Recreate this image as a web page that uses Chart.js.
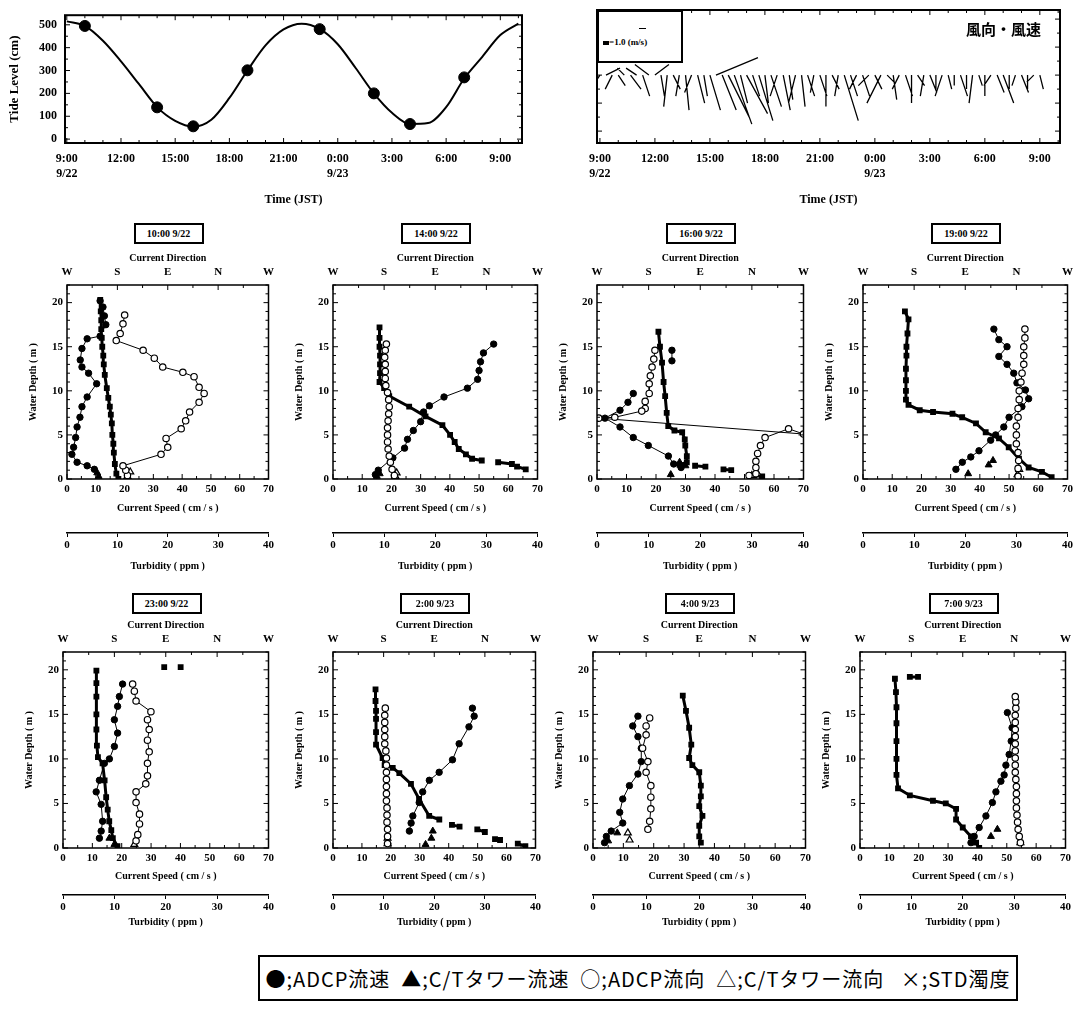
<!DOCTYPE html>
<html>
<head>
<meta charset="utf-8">
<script src="https://cdn.jsdelivr.net/npm/chart.js@4.4.0/dist/chart.umd.min.js"></script>
<style>
  html, body { margin: 0; padding: 0; background: #fff; overflow: hidden; }
  body { width: 1077px; height: 1012px; position: relative; }
  canvas { position: absolute; }
  .tbox { position: absolute; width: 70px; height: 21px; border: 2px solid #000; box-sizing: border-box;
          font: bold 10px 'Liberation Serif', serif; display: flex; align-items: center; justify-content: center; background: #fff; z-index: 2; }
  .legend { position: absolute; left: 258px; top: 955px; width: 760px; height: 46px; border: 2px solid #000; box-sizing: border-box;
            font: 20px 'Noto Sans CJK JP', sans-serif; letter-spacing: 1px; display: flex; align-items: center; justify-content: center; white-space: pre; }
  .wkey { position: absolute; left: 597px; top: 10px; width: 86px; height: 53px; border: 2px solid #000; box-sizing: border-box;
          font: bold 9px 'Liberation Serif', serif; background: #fff; z-index: 2; }
  .wtitle { position: absolute; left: 966px; top: 18px; font: bold 15px 'Noto Sans CJK JP', sans-serif; z-index: 2; }
</style>
</head>
<body>
<script>
// ---- tide level ----
const tideHours = [0,1,2,3,4,5,6,7,8,9,10,11,12,13,14,15,16,17,18,19,20,21,22,23,24,25];
const tideLevel = [515,495,430,340,240,140,80,55,85,180,300,410,480,505,482,415,310,200,115,66,70,140,265,360,455,505];
const obsHours = [1,5,7,10,14,17,19,22];
const obsLevel = [495,139,56,301,481,200,66,270];
const timeTicks = [0,3,6,9,12,15,18,21,24];
const timeLabels = [['9:00','9/22'],['12:00',''],['15:00',''],['18:00',''],['21:00',''],['0:00','9/23'],['3:00',''],['6:00',''],['9:00','']];
const tideTicks = [0,100,200,300,400,500];

// ---- wind sticks (hours after 9:00, u / v in m/s) ----
const windTimes = [0,0.33,0.67,1,1.33,1.67,2,2.33,2.67,3,3.33,3.67,4,4.33,4.67,5,5.33,5.67,6,6.33,6.67,7,7.33,7.67,
  8,8.33,8.67,9,9.33,9.67,10,10.33,10.67,11,11.33,11.67,12,12.33,12.67,13,13.33,13.67,14,14.33,14.67,15,15.33,15.67,
  16,16.33,16.67,17,17.33,17.67,18,18.33,18.67,19,19.33,19.67,20,20.33,20.67,21,21.33,21.67,22,22.33,22.67,23,23.33,23.67,24];
const windU = [-2,2,-1, 1,-1,1.5, -1.5,1,-2, 2,0.5,-0.5, 1,-0.5,0.5, -1,1,0.5, 1.5,6,2, 3,2.5,1, 3,1,2, 0.5,1.5,-1,
  1,0.5,-1, 0.5,1,-0.5, 1,0,1, -0.5,2,1, -1,1,-1.5, 1,-2,1, 0.5,-1,1, 0,1,-0.5, 1,0,-1, 0.5,0,1, 0,-0.5,0.5, 0,-1,1,
  1.5,0,-0.5, 1,0,-1, 0.5];
const windV = [-3,1,-2, -1.5,1,-2, 1,-3,1.5, 1.5,-3,-4.5, -2,-3,-5, -2.5,-4,-3, -5,2.5,-5, -6,-7,-4, -5.5,-3,-6.5, -4,-4.5,-3,
  -5,-3.5,-4, -4.5,-3,-2.5, -3,-4.5,-2, -3,-6.5,-3, -2,-3,-1.5, -2,-4,-1, -3.5,-2,-3, -4,-1.5,-3, -2.5,-2,-3, -2,-1.5,-3,
  -2,-4,-1.5, -3,-1.5,-2.5, -4,-2,-1.5, -2.5,-2,-1, -2];

// ---- profile axes ----
const panelTitles = ['10:00 9/22','14:00 9/22','16:00 9/22','19:00 9/22','23:00 9/22','2:00 9/23','4:00 9/23','7:00 9/23'];
const speedTicks = [0,10,20,30,40,50,60,70];
const dirTicks = [0,90,180,270,360];
const dirLabels = ['W','S','E','N','W'];
const turbTicks = [0,10,20,30,40];
const depthTicks = [0,5,10,15,20];

// ---- profiles: [depth m, value] ; speed cm/s, direction deg, turbidity ppm ----
const p1Turb = [[0,10.2],[0.6,9.8],[1.7,9.5],[3,9.3],[4,9.2],[5,9],[6.3,8.9],[7.3,8.7],[8.2,8.5],[9.2,8.2],[10.3,7.9],[11.8,7.5],[13,7.3],[14,7.2],[15,7],[16,6.9],[17,6.8],[18,6.8],[19,6.7],[20.3,6.6]];
const p1AdcpSpd = [[1.1,9.5],[1.5,7],[1.9,3.5],[2.8,1.7],[3.6,2.3],[4.7,3],[5.9,3.5],[7,4.5],[8.2,5.2],[9.3,7],[10.8,10.3],[12,7.5],[12.7,5.2],[13.5,4.6],[14.8,5.2],[15.9,7],[16.2,11.5],[17.5,13.5],[18.5,13],[19.5,12.5],[20.2,11.5]];
const p1CtSpd = [[0.3,11],[0.7,10.5]];
const p1AdcpDir = [[0.4,108],[1,105],[1.5,100],[2.8,168],[3.6,180],[4.6,177],[5.7,204],[6.6,212],[7.6,219],[8.7,236],[9.7,245],[10.4,236],[11.6,227],[12.1,207],[12.7,171],[13.7,156],[14.6,136],[15.7,88],[16.5,95],[17.6,100],[18.6,103]];
const p1CtDir = [[0.3,108],[0.8,113]];

const p2Turb = [[1.1,37.7],[1.4,36],[1.6,null],[1.7,35],[1.9,32.3],[2.0,null],[2.1,29.1],[2.3,27.2],[2.8,26],[3.4,24.6],[4.2,23.8],[5,22.9],[6.1,21.4],[7.1,18.1],[8.2,14.9],[9.4,11],[10.3,10],[11,9.1],[12,9.2],[13,9.2],[14,9.2],[15,9.1],[16,9.1],[17.2,9.1]];
const p2AdcpSpd = [[0.5,14.5],[1,15.5],[2.4,20.5],[3.5,24.5],[4.5,25.5],[5.5,27.5],[6.5,30],[7.6,31],[8.3,33],[9.3,38],[10.3,46],[11.3,49.5],[12.3,50],[13.3,50.5],[14.3,51.5],[15.3,55]];
const p2CtSpd = [[0.3,15],[0.6,16]];
const p2AdcpDir = [[0.4,108],[1.1,104],[1.9,101],[2.6,99],[3.4,97],[4.2,96],[5,96],[5.8,96],[6.6,97],[7.4,98],[8.2,99],[9,98],[9.8,96],[10.6,93],[11.4,92],[12.2,92],[13,92],[13.8,91],[14.6,92],[15.3,94]];
const p2CtDir = [[0.3,110],[0.7,112]];

const p3Turb = [[0.3,32],[0.4,30.5],[0.7,null],[1,26],[1.1,24.5],[1.3,null],[1.4,21],[1.5,19],[1.6,null],[1.6,16],[1.9,17.4],[2.6,17.4],[3.8,17.1],[4.5,17],[5.3,16.5],[5.5,15],[6,13.8],[7.5,13.5],[9.4,13.2],[11,12.9],[13.2,12.6],[15,12.2],[16.7,11.9]];
const p3AdcpSpd = [[1.3,28.5],[1.7,26],[2.6,24.2],[3.8,17.4],[4.7,12.3],[5.9,7.8],[6.9,2.7],[7.8,7.8],[8.7,10.5],[9.7,12.3],[12,null],[13.4,25.4],[14.6,25.4]];
const p3CtSpd = [[0.5,25],[1.5,30],[1.9,28]];
const p3AdcpDir = [[14.6,101],[13.6,99],[12.7,96],[11.7,93],[10.8,91],[9.7,91],[8.8,84],[8,84],[7.7,78],[7,31],[6.9,3],[5.1,360],[5.7,334],[4.7,293],[3.8,285],[2.9,280],[2,277],[1.3,277],[0.6,277],[0.4,265]];
const p3CtDir = [[0.4,270],[0.6,280]];

const p4Turb = [[0.2,36.9],[0.8,35],[1.3,32.4],[2.3,30.5],[3.6,28.5],[4.6,26.6],[5.3,24],[6.3,22.1],[7,19.4],[7.4,17.5],[7.6,13.7],[7.8,11.1],[8.4,8.9],[9,8.4],[10,8.4],[11.2,8.4],[12.5,8.4],[14,8.5],[15,8.5],[16.5,8.7],[18.1,8.9],[19,8.2]];
const p4AdcpSpd = [[1.1,31.8],[1.9,34],[2.5,36.9],[3.2,39.7],[4.4,43.7],[5,45.4],[5.9,48.2],[7,50],[8.2,54.4],[9.1,56.7],[10.1,55.6],[10.9,52.7],[12,51.6],[13,49.3],[13.9,46.5],[15,49.3],[15.8,46.5],[17,44.8]];
const p4CtSpd = [[0.6,36],[1.6,43],[2.1,44.5]];
const p4AdcpDir = [[0.3,273],[1.2,273],[2.1,274],[3,273],[4,270],[5,270],[6,270],[7,273],[8,273],[9,275],[10,275],[11,278],[12,280],[13,283],[14,283],[15,283],[16,285],[17,285]];
const p4CtDir = [[0.5,272],[1.1,275]];

const p5Turb = [[0.2,10.6],[1.1,9.7],[2,9.4],[3,9],[4.3,8.7],[5.7,8.4],[7.6,8.1],[9.5,7.7],[10.2,6.8],[11.5,6.6],[13.3,6.5],[15,6.5],[17,6.5],[18.5,6.5],[19.9,6.5],[20.3,null],[20.3,19.7],[20.3,null],[20.3,22.9]];
const p5AdcpSpd = [[1.1,12.4],[1.9,13],[3,13.5],[4.9,13],[6.3,11.3],[7.6,12.4],[9.5,14.1],[10,15.8],[11.4,17.5],[12.9,18.6],[14.4,17.5],[15.9,18.6],[17,19.2],[18.4,20.3]];
const p5CtSpd = [[0.4,17.5],[1.1,15.8]];
const p5AdcpDir = [[0.8,128],[1.5,131],[2.7,134],[3.8,134],[5.1,128],[6.3,128],[7.2,145],[8.1,148],[9.5,148],[10.8,151],[12.1,148],[13.3,151],[14.4,148],[15.3,154],[16.5,128],[17.6,125],[18.4,122]];
const p5CtDir = [[0.4,125]];

const p6Turb = [[0.2,38],[0.5,36.5],[0.6,null],[0.9,33],[1,32],[1.2,null],[1.8,30],[2.1,28.5],[2.2,null],[2.4,25],[2.6,23.5],[2.8,null],[3.2,21],[3.6,19],[5.5,17],[7.2,15.4],[8.4,13.1],[9,11.8],[9.3,10.2],[10.1,9.8],[11.6,8.5],[13,8.5],[14.5,8.5],[15.4,8.5],[16.5,8.4],[17.8,8.4]];
const p6AdcpSpd = [[1.9,26.4],[2.8,27],[3.6,27.6],[5.1,29.8],[6.3,31],[7.6,33.3],[8.5,36.7],[9.9,41.3],[11.7,43.6],[13.6,47],[14.8,48.8],[15.7,48.2]];
const p6CtSpd = [[0.4,32],[1.1,34],[1.9,34.5]];
const p6AdcpDir = [[0.5,97],[1.3,97],[2.1,97],[2.9,96],[3.7,96],[4.5,96],[5.3,95],[6.1,95],[6.9,95],[7.7,95],[8.5,95],[9.3,95],[10.1,95],[10.9,94],[11.7,92],[12.5,92],[13.3,92],[14.1,92],[14.9,92],[15.7,93]];
const p6CtDir = [[0.5,97],[1.1,97]];

const p7Turb = [[0.6,20.3],[1.3,20],[2.5,20],[3.6,20.6],[4.7,20],[5.8,20.3],[7,20.3],[8.5,20],[9.3,18.7],[10.1,18.1],[11.6,18.5],[13.5,18.1],[15.4,17.5],[17.1,16.9]];
const p7AdcpSpd = [[0.6,3.8],[1.3,4.4],[1.9,6],[2.8,9.8],[4,8.8],[5.5,9.8],[7,12],[8.3,14.8],[9.7,15.9],[11.2,15.9],[12.5,14.8],[13.7,13.1],[14.8,14.8]];
const p7CtSpd = [[0.8,5],[1.7,8]];
const p7AdcpDir = [[2.1,93],[3,96],[4.4,98],[5.7,98],[7,98],[8.5,90],[9.7,93],[11.2,84],[12.7,90],[13.7,90],[14.6,96]];
const p7CtDir = [[0.9,62],[1.7,59]];

const p8Turb = [[0,23.2],[0.6,22.6],[1.3,21.6],[2.3,20],[3.2,18.7],[4.4,18.7],[5,16.7],[5.3,14.2],[5.9,9.7],[6.7,7.4],[8.2,7.1],[10,7.1],[12,7.1],[14,7.1],[15.8,7.1],[17.5,7],[19,6.8],[19.2,null],[19.2,9.7],[19.2,11.3]];
const p8AdcpSpd = [[0.6,37.8],[1.3,38.9],[2.3,40.6],[3.6,42.9],[5.1,45.1],[6.3,46.3],[7.5,48],[8.2,49.1],[9.3,49.7],[10.5,50.8],[12,51.5],[13.5,51.8],[15.2,50.2]];
const p8CtSpd = [[1.3,44.6],[2.1,46.8]];
const p8AdcpDir = [[0.6,281],[1.3,279],[2.1,277],[2.9,276],[3.7,275],[4.5,274],[5.3,274],[6.1,274],[6.9,274],[7.7,273],[8.5,272],[9.3,272],[10.1,272],[10.9,272],[11.7,272],[12.5,272],[13.3,272],[14.1,272],[14.9,272],[15.7,273],[16.4,273],[17,272]];
const p8CtDir = [[0.6,281]];

const profiles = [
  { turb: p1Turb, adcpSpd: p1AdcpSpd, ctSpd: p1CtSpd, adcpDir: p1AdcpDir, ctDir: p1CtDir },
  { turb: p2Turb, adcpSpd: p2AdcpSpd, ctSpd: p2CtSpd, adcpDir: p2AdcpDir, ctDir: p2CtDir },
  { turb: p3Turb, adcpSpd: p3AdcpSpd, ctSpd: p3CtSpd, adcpDir: p3AdcpDir, ctDir: p3CtDir },
  { turb: p4Turb, adcpSpd: p4AdcpSpd, ctSpd: p4CtSpd, adcpDir: p4AdcpDir, ctDir: p4CtDir },
  { turb: p5Turb, adcpSpd: p5AdcpSpd, ctSpd: p5CtSpd, adcpDir: p5AdcpDir, ctDir: p5CtDir },
  { turb: p6Turb, adcpSpd: p6AdcpSpd, ctSpd: p6CtSpd, adcpDir: p6AdcpDir, ctDir: p6CtDir },
  { turb: p7Turb, adcpSpd: p7AdcpSpd, ctSpd: p7CtSpd, adcpDir: p7AdcpDir, ctDir: p7CtDir },
  { turb: p8Turb, adcpSpd: p8AdcpSpd, ctSpd: p8CtSpd, adcpDir: p8AdcpDir, ctDir: p8CtDir },
];

// plot frames on the page: left, top, right, bottom
const panelFrames = [
  [67,285,270,479],[333,285,539,479],[597,285,805,479],[863,285,1069,479],
  [63,652,270,848],[333,652,537,848],[593,652,807,848],[860,652,1067,848],
];

Chart.defaults.font.family = "'Liberation Serif', serif";
Chart.defaults.font.weight = 'bold';
Chart.defaults.font.size = 10;
Chart.defaults.color = '#000';

// box round the plot area with inward ticks on all four sides
const framePlugin = {
  id: 'frame',
  afterDraw(chart, args, o) {
    const { ctx, chartArea: a } = chart;
    ctx.save();
    ctx.strokeStyle = '#000';
    ctx.lineWidth = o.lw || 1.5;
    ctx.strokeRect(a.left, a.top, a.right - a.left, a.bottom - a.top);
    const marks = (spec, draw) => {
      const s = chart.scales[spec.id];
      for (let v = Math.ceil(s.min / spec.step) * spec.step; v <= s.max + 1e-9; v += spec.step) {
        const p = s.getPixelForValue(v);
        const r = v / spec.major;
        draw(p, Math.abs(r - Math.round(r)) < 1e-6 ? 5 : 3);
      }
    };
    ctx.lineWidth = 1;
    ctx.beginPath();
    marks(o.bottom, (p, l) => { ctx.moveTo(p, a.bottom); ctx.lineTo(p, a.bottom - l); });
    marks(o.top || o.bottom, (p, l) => { ctx.moveTo(p, a.top); ctx.lineTo(p, a.top + l); });
    marks(o.left, (p, l) => { ctx.moveTo(a.left, p); ctx.lineTo(a.left + l, p); ctx.moveTo(a.right, p); ctx.lineTo(a.right - l, p); });
    ctx.stroke();
    ctx.restore();
  }
};

function addCanvas(x, y, w, h) {
  const c = document.createElement('canvas');
  c.width = w; c.height = h;
  c.style.left = x + 'px'; c.style.top = y + 'px';
  c.style.width = w + 'px'; c.style.height = h + 'px';
  document.body.appendChild(c);
  return c;
}
const setTicks = list => s => { s.ticks = list.map(v => ({ value: v })); };
const pts = arr => arr.map(([d, v]) => ({ x: v, y: d }));

// ---- tide chart ----
new Chart(addCanvas(0, 0, 540, 215), {
  type: 'scatter',
  data: { datasets: [
    { data: obsHours.map((h, i) => ({ x: h, y: obsLevel[i] })), pointRadius: 5.5, pointStyle: 'circle',
      backgroundColor: '#000', borderColor: '#000', showLine: false },
    { data: tideHours.map((h, i) => ({ x: h, y: tideLevel[i] })), showLine: true, pointRadius: 0,
      borderColor: '#000', borderWidth: 2, cubicInterpolationMode: 'monotone' },
  ]},
  options: {
    responsive: false, animation: false, devicePixelRatio: 1,
    layout: { padding: { left: 0, right: 18, top: 10, bottom: 0 }, autoPadding: false },
    plugins: { legend: { display: false }, tooltip: { enabled: false },
      frame: { lw: 2, bottom: { id: 'x', step: 1, major: 3 }, left: { id: 'y', step: 50, major: 100 } } },
    scales: {
      x: { min: -0.1, max: 25.2, afterBuildTicks: setTicks(timeTicks), afterFit: s => { s.height = 72; },
           grid: { display: false, drawTicks: false }, border: { display: false },
           ticks: { padding: 8, font: { size: 12, lineHeight: 1.25 }, maxRotation: 0, autoSkip: false, callback: (v, i) => timeLabels[i] },
           title: { display: true, text: 'Time (JST)', font: { size: 12 }, padding: { top: 0, bottom: 8 } } },
      y: { min: -17, max: 542, afterBuildTicks: setTicks(tideTicks), afterFit: s => { s.width = 65; },
           grid: { display: false, drawTicks: false }, border: { display: false },
           ticks: { padding: 8, font: { size: 12 } },
           title: { display: true, text: 'Tide Level (cm)', font: { size: 13 }, padding: { top: 7, bottom: 0 } } },
    }
  },
  plugins: [framePlugin]
});

// ---- wind stick chart ----
const windScale = 0.382; // hours per m/s so that sticks keep true direction
const sticks = [];
windTimes.forEach((t, i) => {
  sticks.push({ x: t, y: 0 }, { x: t + windU[i] * windScale, y: windV[i] }, { x: null, y: null });
});
new Chart(addCanvas(540, 0, 537, 215), {
  type: 'scatter',
  data: { datasets: [
    { data: sticks, showLine: true, pointRadius: 0, borderColor: '#000', borderWidth: 1.3, spanGaps: false },
  ]},
  options: {
    responsive: false, animation: false, devicePixelRatio: 1,
    layout: { padding: { left: 0, right: 17, top: 10, bottom: 0 }, autoPadding: false },
    plugins: { legend: { display: false }, tooltip: { enabled: false },
      frame: { lw: 2, bottom: { id: 'x', step: 1, major: 3 }, left: { id: 'y', step: 2, major: 4 } } },
    scales: {
      x: { min: -0.16, max: 25.1, afterBuildTicks: setTicks(timeTicks), afterFit: s => { s.height = 72; },
           grid: { display: false, drawTicks: false }, border: { display: false },
           ticks: { padding: 8, font: { size: 12, lineHeight: 1.25 }, maxRotation: 0, autoSkip: false, callback: (v, i) => timeLabels[i] },
           title: { display: true, text: 'Time (JST)', font: { size: 12 }, padding: { top: 0, bottom: 8 } } },
      y: { min: -9.7, max: 9.3, afterFit: s => { s.width = 57; },
           grid: { display: false, drawTicks: false }, border: { display: false }, ticks: { display: false } },
    }
  },
  plugins: [framePlugin]
});

// ---- depth profiles ----
panelFrames.forEach((f, k) => {
  const [L, T, R, B] = f;
  const row2 = k >= 4;
  const xh = row2 ? 47 : 54;
  const W = R - L + 50, H = B - T + 40 + xh + 46;
  const p = profiles[k];
  new Chart(addCanvas(L - 40, T - 40, W, H), {
    type: 'scatter',
    data: { datasets: [
      { data: pts(p.adcpDir), xAxisID: 'x2', showLine: true, borderColor: '#000', borderWidth: 1,
        pointRadius: 3.2, pointBorderWidth: 1.2, backgroundColor: '#fff', pointBackgroundColor: '#fff', spanGaps: false },
      { data: pts(p.ctDir), xAxisID: 'x2', showLine: false, pointStyle: 'triangle', pointRadius: 4,
        pointBorderWidth: 1.2, borderColor: '#000', backgroundColor: '#fff' },
      { data: pts(p.adcpSpd), xAxisID: 'x', showLine: true, borderColor: '#000', borderWidth: 1,
        pointRadius: 3.2, backgroundColor: '#000', spanGaps: false },
      { data: pts(p.ctSpd), xAxisID: 'x', showLine: false, pointStyle: 'triangle', pointRadius: 4,
        borderColor: '#000', backgroundColor: '#000' },
      { data: pts(p.turb), xAxisID: 'x3', showLine: true, borderColor: '#000', borderWidth: 3,
        pointStyle: 'rect', pointRadius: 2, backgroundColor: '#000', spanGaps: false },
    ]},
    options: {
      responsive: false, animation: false, devicePixelRatio: 1,
      layout: { padding: { left: 0, right: 10, top: 0, bottom: 0 }, autoPadding: false },
      plugins: { legend: { display: false }, tooltip: { enabled: false },
        frame: { lw: 1.5, bottom: { id: 'x', step: 5, major: 10 }, top: { id: 'x2', step: 45, major: 90 }, left: { id: 'y', step: 1, major: 5 } } },
      scales: {
        x: { axis: 'x', position: 'bottom', weight: 0, min: 0, max: 70, afterBuildTicks: setTicks(speedTicks),
             afterFit: s => { s.height = xh; },
             grid: { display: false, drawTicks: false }, border: { display: false },
             ticks: { padding: 4, font: { size: 11 }, maxRotation: 0, autoSkip: false },
             title: { display: true, text: 'Current Speed ( cm / s )', padding: { top: 0, bottom: row2 ? 13 : 19 } } },
        x3: { axis: 'x', position: 'bottom', weight: 1, min: 0, max: 40, afterBuildTicks: setTicks(turbTicks),
              afterFit: s => { s.height = 46; },
              grid: { display: true, drawOnChartArea: false, drawTicks: true, tickLength: 4, color: '#000' },
              border: { display: true, color: '#000', width: 1.5 },
              ticks: { padding: 2, font: { size: 11 }, maxRotation: 0, autoSkip: false },
              title: { display: true, text: 'Turbidity ( ppm )', padding: { top: 0, bottom: row2 ? 13 : 7 } } },
        x2: { axis: 'x', position: 'top', min: 0, max: 360, afterBuildTicks: setTicks(dirTicks),
              afterFit: s => { s.height = 40; },
              grid: { display: false, drawTicks: false }, border: { display: false },
              ticks: { padding: 6, font: { size: 11 }, maxRotation: 0, autoSkip: false, callback: (v, i) => dirLabels[i] },
              title: { display: true, text: 'Current Direction', padding: { top: 7, bottom: 0 } } },
        y: { min: 0, max: 22, afterBuildTicks: setTicks(depthTicks), afterFit: s => { s.width = 40; },
             grid: { display: false, drawTicks: false }, border: { display: false },
             ticks: { padding: 4, font: { size: 11 } },
             title: { display: true, text: 'Water Depth ( m )', padding: { top: 0, bottom: 0 } } },
      }
    },
    plugins: [framePlugin]
  });
  const box = document.createElement('div');
  box.className = 'tbox';
  box.textContent = panelTitles[k];
  box.style.left = ((L + R) / 2 - 35) + 'px';
  box.style.top = (row2 ? 593 : 223) + 'px';
  document.body.appendChild(box);
});

// ---- wind key, wind title, symbol legend ----
const key = document.createElement('div');
key.className = 'wkey';
key.innerHTML = '<div style="position:absolute;left:40px;top:16px;width:7px;border-top:1.5px solid #000"></div>' +
                '<div style="position:absolute;left:4px;top:25px"><span style="display:inline-block;width:6px;height:4px;background:#000;vertical-align:middle"></span>=1.0 (m/s)</div>';
document.body.appendChild(key);
const wt = document.createElement('div');
wt.className = 'wtitle';
wt.textContent = '風向・風速';
document.body.appendChild(wt);
const lg = document.createElement('div');
lg.className = 'legend';
lg.textContent = '●;ADCP流速  ▲;C/Tタワー流速  ○;ADCP流向  △;C/Tタワー流向   ×;STD濁度';
document.body.appendChild(lg);
</script>
</body>
</html>
